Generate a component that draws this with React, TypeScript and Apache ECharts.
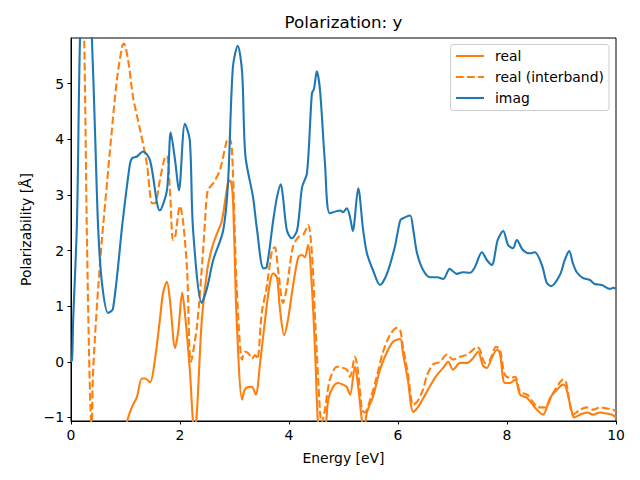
import React, { useEffect, useRef } from "react";
import * as echarts from "echarts";

const yTicks = [-1, 0, 1, 2, 3, 4, 5];
const xTicks = [0, 2, 4, 6, 8, 10];

const imagX = [0, 0.02, 0.04, 0.11, 0.17, 0.27, 0.38, 0.44, 0.5, 0.57, 0.68, 0.77, 0.95, 1.08, 1.12, 1.21, 1.32, 1.45, 1.63, 1.76, 1.83, 1.91, 1.98, 2.09, 2.18, 2.24, 2.4, 2.5, 2.61, 2.79, 2.88, 2.97, 3.06, 3.14, 3.2, 3.34, 3.41, 3.53, 3.59, 3.71, 3.78, 3.85, 3.89, 3.96, 4.05, 4.15, 4.24, 4.33, 4.42, 4.46, 4.51, 4.57, 4.66, 4.75, 4.94, 4.99, 5.06, 5.12, 5.17, 5.27, 5.36, 5.43, 5.54, 5.67, 5.8, 5.94, 6.04, 6.09, 6.22, 6.28, 6.35, 6.46, 6.59, 6.72, 6.83, 6.95, 7.08, 7.19, 7.32, 7.41, 7.54, 7.63, 7.72, 7.83, 7.93, 8.02, 8.11, 8.18, 8.29, 8.42, 8.51, 8.64, 8.73, 8.81, 8.97, 9.06, 9.14, 9.21, 9.28, 9.39, 9.52, 9.61, 9.74, 9.89, 9.95, 10];
const imagY = [0, 0.04, 0.75, 2.54, 6.0, 8.0, 5.9, 4.16, 2.37, 1.4, 0.88, 0.95, 2.54, 3.55, 3.66, 3.69, 3.78, 3.62, 2.72, 3.08, 4.12, 3.62, 3.08, 4.28, 3.98, 2.37, 1.06, 1.34, 1.83, 2.35, 3.2, 5.29, 5.68, 5.2, 3.7, 2.96, 2.4, 1.68, 1.7, 2.54, 2.96, 3.19, 2.96, 2.37, 2.22, 2.37, 3.14, 3.39, 4.82, 4.91, 5.22, 4.87, 3.57, 2.67, 2.72, 2.69, 2.76, 2.6, 2.35, 3.12, 2.37, 1.95, 1.65, 1.38, 1.59, 2.06, 2.54, 2.58, 2.63, 2.37, 1.95, 1.65, 1.52, 1.52, 1.49, 1.67, 1.58, 1.61, 1.6, 1.7, 1.97, 1.83, 1.74, 2.19, 2.35, 2.1, 2.04, 2.19, 2.01, 1.95, 1.97, 1.74, 1.42, 1.36, 1.56, 1.83, 1.99, 1.77, 1.61, 1.51, 1.47, 1.4, 1.38, 1.31, 1.33, 1.31];

const interX = [0, 0.15, 0.24, 0.29, 0.33, 0.36, 0.38, 0.4, 0.44, 0.5, 0.57, 0.59, 0.72, 0.84, 0.94, 0.97, 1.05, 1.14, 1.27, 1.39, 1.49, 1.54, 1.63, 1.72, 1.76, 1.82, 1.87, 1.91, 2.0, 2.06, 2.13, 2.2, 2.31, 2.42, 2.46, 2.51, 2.61, 2.73, 2.86, 2.9, 2.95, 3.0, 3.04, 3.14, 3.19, 3.26, 3.32, 3.38, 3.42, 3.5, 3.59, 3.69, 3.74, 3.8, 3.89, 3.96, 4.07, 4.17, 4.26, 4.35, 4.42, 4.48, 4.57, 4.6, 4.66, 4.75, 4.88, 4.99, 5.06, 5.12, 5.21, 5.27, 5.34, 5.39, 5.49, 5.61, 5.72, 5.85, 5.98, 6.04, 6.09, 6.18, 6.28, 6.35, 6.46, 6.53, 6.64, 6.77, 6.9, 7.01, 7.14, 7.27, 7.38, 7.45, 7.5, 7.6, 7.69, 7.8, 7.87, 7.96, 8.06, 8.15, 8.24, 8.37, 8.48, 8.57, 8.7, 8.83, 8.94, 9.03, 9.08, 9.16, 9.21, 9.34, 9.47, 9.58, 9.71, 9.83, 9.95, 10];
const interY = [8.5, 9, 5.9, 2.37, 0.2, -0.9, -1.2, -0.32, 0.45, 1.34, 2.24, 2.45, 3.85, 5.05, 5.68, 5.72, 5.41, 4.75, 4.16, 3.57, 2.85, 2.85, 3.26, 3.67, 3.7, 3.0, 2.19, 2.24, 2.8, 2.49, 1.65, 0.0, 0.63, 1.95, 2.54, 3.08, 3.21, 3.44, 3.98, 4.03, 3.85, 2.5, 1.34, 0.04, 0.18, 0.15, 0.06, 0.12, 0.05, 0.88, 1.34, 2.01, 2.06, 1.65, 1.06, 1.34, 2.06, 2.24, 2.28, 2.46, 1.95, 0.75, -0.91, -1.1, -0.86, -0.32, -0.09, -0.11, -0.14, -0.27, 0.09, -0.2, -0.86, -0.91, -0.68, -0.27, 0.16, 0.48, 0.61, 0.57, 0.27, -0.2, -0.77, -0.72, -0.5, -0.25, -0.05, 0.0, 0.13, 0.04, 0.09, 0.13, 0.22, 0.27, 0.22, -0.02, 0.04, 0.27, 0.22, -0.23, -0.29, -0.27, -0.54, -0.59, -0.73, -0.82, -0.82, -0.59, -0.41, -0.32, -0.35, -0.8, -0.95, -0.86, -0.82, -0.86, -0.82, -0.84, -0.86, -0.9];

const realX = [0, 0.5, 0.9, 1.03, 1.12, 1.21, 1.3, 1.36, 1.45, 1.54, 1.63, 1.69, 1.76, 1.82, 1.91, 1.97, 2.04, 2.09, 2.18, 2.24, 2.27, 2.31, 2.4, 2.5, 2.59, 2.68, 2.77, 2.88, 2.92, 2.97, 3.04, 3.14, 3.19, 3.28, 3.32, 3.39, 3.47, 3.56, 3.65, 3.71, 3.78, 3.83, 3.91, 3.98, 4.07, 4.17, 4.24, 4.29, 4.35, 4.42, 4.48, 4.53, 4.6, 4.68, 4.72, 4.81, 4.9, 4.99, 5.06, 5.12, 5.21, 5.27, 5.34, 5.38, 5.43, 5.54, 5.67, 5.8, 5.91, 6.04, 6.09, 6.18, 6.28, 6.37, 6.5, 6.62, 6.72, 6.83, 6.92, 7.01, 7.14, 7.27, 7.38, 7.47, 7.56, 7.63, 7.72, 7.82, 7.87, 7.96, 8.06, 8.15, 8.24, 8.37, 8.51, 8.66, 8.79, 8.92, 9.03, 9.08, 9.19, 9.23, 9.34, 9.47, 9.58, 9.71, 9.83, 9.93, 10];
const realY = [-8, -5, -1.8, -1.07, -0.81, -0.63, -0.3, -0.3, -0.37, 0.04, 0.75, 1.24, 1.44, 1.06, 0.25, 0.57, 1.24, 0.88, -0.14, -1.1, -1.2, -0.91, 0.75, 1.65, 2.06, 2.31, 2.54, 3.22, 3.26, 2.96, 0.75, -0.68, -0.5, -0.45, -0.45, -0.59, -0.02, 0.75, 1.42, 1.59, 1.51, 0.99, 0.48, 0.75, 1.34, 1.88, 1.92, 1.88, 2.1, 1.34, 0.16, -1.07, -1.6, -1.1, -0.68, -0.45, -0.38, -0.41, -0.45, -0.59, -0.09, -0.45, -1.07, -1.2, -0.91, -0.63, -0.14, 0.18, 0.36, 0.41, 0.16, -0.32, -0.9, -0.81, -0.59, -0.38, -0.23, -0.11, 0.0, -0.14, -0.02, -0.02, 0.07, 0.18, -0.07, -0.11, 0.07, 0.22, 0.15, -0.38, -0.38, -0.32, -0.59, -0.65, -0.82, -0.95, -0.65, -0.5, -0.41, -0.45, -0.9, -1.0, -0.95, -0.91, -0.95, -0.91, -0.93, -0.95, -1.0];

const legendLabels = ["real", "real (interband)", "imag"];

const ORANGE = "#ff7f0e";
const BLUE = "#1f77b4";
const FONT = "DejaVu Sans";

const zip = (xs: number[], ys: number[]) => xs.map((x, i) => [x, ys[i]]);
const fmt = (v: number) => (v < 0 ? "\u2212" + Math.abs(v) : String(v));

export default function App() {
  const ref = useRef<HTMLDivElement>(null);
  useEffect(() => {
    if (!ref.current) return;
    const chart = echarts.init(ref.current, null, { renderer: "svg" });
    const legendStyles = [
      { color: ORANGE, dash: null as any },
      { color: ORANGE, dash: [7.7, 3.3] as any },
      { color: BLUE, dash: null as any },
    ];
    const legendRows = legendLabels.map((label, i) => {
      const y = 56 + i * 21;
      return [
        {
          type: "line",
          shape: { x1: 456, y1: y, x2: 484, y2: y },
          style: { stroke: legendStyles[i].color, lineWidth: 2.1, lineDash: legendStyles[i].dash },
          z: 101,
        },
        {
          type: "text",
          x: 495,
          y: y,
          style: { text: label, fontSize: 13.9, fontFamily: FONT, fill: "#000", textVerticalAlign: "middle", textAlign: "left" },
          z: 101,
        },
      ];
    }).flat();

    chart.setOption({
      animation: false,
      backgroundColor: "#fff",
      grid: { left: 71, right: 24, top: 38, bottom: 59, show: true, borderColor: "#000", borderWidth: 1, backgroundColor: "transparent" },
      xAxis: {
        type: "value",
        min: 0,
        max: 10,
        interval: 2,
        axisLine: { show: true, onZero: false, lineStyle: { color: "#000", width: 1 } },
        axisTick: { show: true, length: 3.5, lineStyle: { color: "#000" }, customValues: xTicks },
        axisLabel: { margin: 7, fontSize: 13.9, fontFamily: FONT, color: "#000", customValues: xTicks },
        splitLine: { show: false },
      },
      yAxis: {
        type: "value",
        min: -1.064,
        max: 5.82,
        axisLine: { show: true, onZero: false, lineStyle: { color: "#000", width: 1 } },
        axisTick: { show: true, length: 3.5, lineStyle: { color: "#000" }, customValues: yTicks },
        axisLabel: { margin: 7, fontSize: 13.9, fontFamily: FONT, color: "#000", customValues: yTicks, formatter: (v: number) => fmt(v) },
        splitLine: { show: false },
      },
      series: [
        {
          name: "real",
          type: "line",
          data: zip(realX, realY),
          showSymbol: false,
          symbol: "none",
          smooth: 0.3,
          clip: true,
          lineStyle: { color: ORANGE, width: 2.1 },
          z: 2,
        },
        {
          name: "real (interband)",
          type: "line",
          data: zip(interX, interY),
          showSymbol: false,
          symbol: "none",
          smooth: 0.3,
          clip: true,
          lineStyle: { color: ORANGE, width: 2.1, type: [7.7, 3.3] },
          z: 3,
        },
        {
          name: "imag",
          type: "line",
          data: zip(imagX, imagY),
          showSymbol: false,
          symbol: "none",
          smooth: 0.3,
          clip: true,
          lineStyle: { color: BLUE, width: 2.1 },
          z: 4,
        },
      ],
      graphic: [
        {
          type: "text",
          x: 343.5,
          y: 22,
          style: { text: "Polarization: y", fontSize: 16.7, fontFamily: FONT, fill: "#000", textAlign: "center", textVerticalAlign: "middle" },
        },
        {
          type: "text",
          x: 343.5,
          y: 458,
          style: { text: "Energy [eV]", fontSize: 13.9, fontFamily: FONT, fill: "#000", textAlign: "center", textVerticalAlign: "middle" },
        },
        {
          type: "text",
          x: 26,
          y: 229.5,
          rotation: Math.PI / 2,
          style: { text: "Polarizability [Å]", fontSize: 13.9, fontFamily: FONT, fill: "#000", textAlign: "center", textVerticalAlign: "middle" },
        },
        {
          type: "rect",
          shape: { x: 450.5, y: 44.5, width: 158.5, height: 66, r: 3 },
          style: { fill: "rgba(255,255,255,0.8)", stroke: "#cccccc", lineWidth: 1 },
          z: 100,
        },
        ...legendRows,
      ],
    });
    return () => chart.dispose();
  }, []);
  return <div ref={ref} style={{ position: "fixed", left: 0, top: 0, width: 640, height: 480 }} />;
}
